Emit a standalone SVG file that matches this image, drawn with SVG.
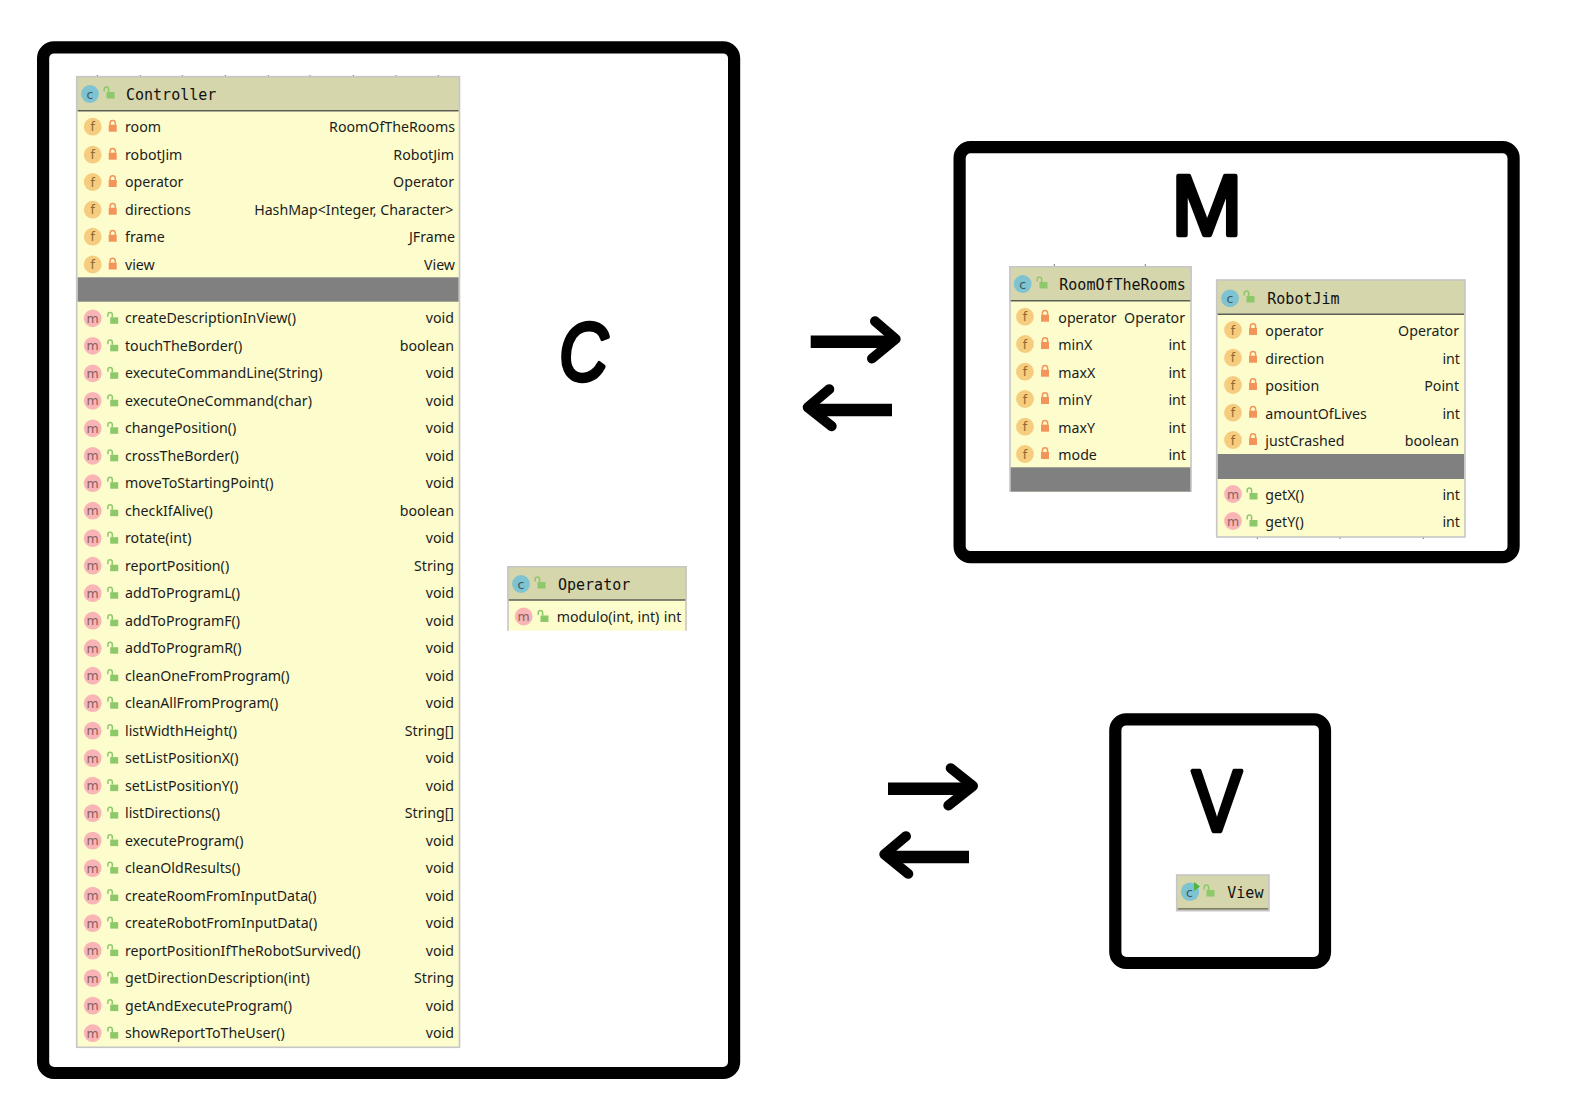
<svg xmlns="http://www.w3.org/2000/svg" width="1578" height="1115" viewBox="0 0 1578 1115">
<style>
.frame{fill:none;stroke:#000;stroke-width:12.2}
.hd{fill:#D5D6AB}.bd{fill:#FCFCCD}.gr{fill:#808080}
.bo{fill:none;stroke:#C6C6C6;stroke-width:1.6}
.hl{stroke:#5E5E58;stroke-width:1.4}
.tick{stroke:#777;stroke-width:1;fill:none}
text{font-family:"Noto Sans","Open Sans",sans-serif;font-size:14.2px;fill:#1c1c1c}
.r{text-anchor:end}
text.h{font-family:"DejaVu Sans Mono","Liberation Mono",monospace;font-size:15px;fill:#111}
.ic{fill:#7EC3D1}.if{fill:#F6CC7F}.im{fill:#F9B5B5}
text.lc,text.lf,text.lm{font-family:"DejaVu Sans",sans-serif;font-size:12.5px;text-anchor:middle}
text.lc{fill:#3C5660}text.lf{fill:#8A6A30}text.lm{fill:#85605E}
text.big{font-family:"Liberation Sans",sans-serif;fill:#000;stroke:#000;stroke-width:4.5;stroke-linejoin:round;text-anchor:middle}
text.bc{font-size:84px;font-style:italic}
text.bm{font-size:85px}
text.bv{font-size:88px}
.shaft{stroke:#000;stroke-width:12.4;fill:none}
.head{stroke:#000;stroke-width:10;fill:none;stroke-linecap:round;stroke-linejoin:round}
</style>
<defs>
<g id="lk"><rect x="-4" y="-2" width="8" height="7" fill="#F3955A"/><path d="M-2.6-2v-1.6a2.6 2.6 0 0 1 5.2 0V-2" fill="none" stroke="#F3955A" stroke-width="1.5"/></g>
<g id="lo"><rect x="-2.5" y="-1" width="8" height="6.5" fill="#8DC86B"/><path d="M-4.8-1.5v-2.2a2.2 2.2 0 0 1 4.4 0V-1" fill="none" stroke="#8DC86B" stroke-width="1.5"/></g>
</defs>

<g id="box-c"><rect class="frame" x="43.1" y="47.3" width="691" height="1025.7" rx="11"/><text class="big bc" transform="translate(583.5,379.5) scale(.8,.97)">C</text></g>
<g id="box-m"><rect class="frame" x="959.6" y="147.2" width="554" height="410" rx="11"/><text class="big bm" x="1207" y="235">M</text></g>
<g id="box-v"><rect class="frame" x="1115.3" y="719.3" width="209.7" height="243.7" rx="11"/><text class="big bv" transform="translate(1217,831) scale(.85,1)">V</text></g>

<g id="connectors">
<path class="shaft" d="M810.7 341.7H889"/><path class="head" d="M875 321.2L895.7 339L872 358.5"/>
<path class="shaft" d="M892 410H813"/><path class="head" d="M829.3 389.2L807.7 407.3L831.7 426.2"/>
<path class="shaft" d="M888 788.7H967"/><path class="head" d="M950.7 768.2L973 786L948.3 805.5"/>
<path class="shaft" d="M969 857H889"/><path class="head" d="M906 836.2L884.3 854.3L908.3 873.8"/>
</g>

<g id="node-controller">
<path class="tick" d="M97.3 75v2M140.3 75v2M182.3 75v2M225.3 75v2M268.3 75v2M310 75v2M353.3 75v2M396 75v2M438.3 75v2"/>
<rect class="bd" x="76.7" y="76.7" width="382.8" height="970.6"/>
<rect class="hd" x="76.7" y="76.7" width="382.8" height="34"/>
<rect class="gr" x="77.5" y="277.3" width="381.2" height="24.4"/>
<line class="hl" x1="77.5" y1="110.7" x2="458.7" y2="110.7"/>
<rect class="bo" x="76.7" y="76.7" width="382.8" height="970.6"/>
<circle class="ic" cx="90" cy="94" r="8.9"/><text class="lc" x="90" y="98.5">c</text><use href="#lo" x="109" y="93"/><text class="h" x="126" y="99.5">Controller</text>
<g transform="translate(0,126.7)"><circle class="if" cx="92.7" r="8.9"/><text class="lf" x="92.7" y="4.5">f</text><use href="#lk" x="112.7"/><text x="125" y="5">room</text><text class="r" x="455" y="5">RoomOfTheRooms</text></g>
<g transform="translate(0,154.7)"><circle class="if" cx="92.7" r="8.9"/><text class="lf" x="92.7" y="4.5">f</text><use href="#lk" x="112.7"/><text x="125" y="5">robotJim</text><text class="r" x="454" y="5">RobotJim</text></g>
<g transform="translate(0,182)"><circle class="if" cx="92.7" r="8.9"/><text class="lf" x="92.7" y="4.5">f</text><use href="#lk" x="112.7"/><text x="125" y="5">operator</text><text class="r" x="454" y="5">Operator</text></g>
<g transform="translate(0,209.7)"><circle class="if" cx="92.7" r="8.9"/><text class="lf" x="92.7" y="4.5">f</text><use href="#lk" x="112.7"/><text x="125" y="5">directions</text><text class="r" x="453.5" y="5">HashMap&lt;Integer, Character&gt;</text></g>
<g transform="translate(0,236.7)"><circle class="if" cx="92.7" r="8.9"/><text class="lf" x="92.7" y="4.5">f</text><use href="#lk" x="112.7"/><text x="125" y="5">frame</text><text class="r" x="455" y="5">JFrame</text></g>
<g transform="translate(0,264.5)"><circle class="if" cx="92.7" r="8.9"/><text class="lf" x="92.7" y="4.5">f</text><use href="#lk" x="112.7"/><text x="125" y="5">view</text><text class="r" x="455" y="5">View</text></g>
<g transform="translate(0,318.3)"><circle class="im" cx="92.7" r="8.9"/><text class="lm" x="92.7" y="4.5">m</text><use href="#lo" x="112.7"/><text x="125" y="5">createDescriptionInView()</text><text class="r" x="454" y="5">void</text></g>
<g transform="translate(0,345.8)"><circle class="im" cx="92.7" r="8.9"/><text class="lm" x="92.7" y="4.5">m</text><use href="#lo" x="112.7"/><text x="125" y="5">touchTheBorder()</text><text class="r" x="454" y="5">boolean</text></g>
<g transform="translate(0,373.3)"><circle class="im" cx="92.7" r="8.9"/><text class="lm" x="92.7" y="4.5">m</text><use href="#lo" x="112.7"/><text x="125" y="5">executeCommandLine(String)</text><text class="r" x="454" y="5">void</text></g>
<g transform="translate(0,400.8)"><circle class="im" cx="92.7" r="8.9"/><text class="lm" x="92.7" y="4.5">m</text><use href="#lo" x="112.7"/><text x="125" y="5">executeOneCommand(char)</text><text class="r" x="454" y="5">void</text></g>
<g transform="translate(0,428.3)"><circle class="im" cx="92.7" r="8.9"/><text class="lm" x="92.7" y="4.5">m</text><use href="#lo" x="112.7"/><text x="125" y="5">changePosition()</text><text class="r" x="454" y="5">void</text></g>
<g transform="translate(0,455.8)"><circle class="im" cx="92.7" r="8.9"/><text class="lm" x="92.7" y="4.5">m</text><use href="#lo" x="112.7"/><text x="125" y="5">crossTheBorder()</text><text class="r" x="454" y="5">void</text></g>
<g transform="translate(0,483.2)"><circle class="im" cx="92.7" r="8.9"/><text class="lm" x="92.7" y="4.5">m</text><use href="#lo" x="112.7"/><text x="125" y="5">moveToStartingPoint()</text><text class="r" x="454" y="5">void</text></g>
<g transform="translate(0,510.7)"><circle class="im" cx="92.7" r="8.9"/><text class="lm" x="92.7" y="4.5">m</text><use href="#lo" x="112.7"/><text x="125" y="5">checkIfAlive()</text><text class="r" x="454" y="5">boolean</text></g>
<g transform="translate(0,538.2)"><circle class="im" cx="92.7" r="8.9"/><text class="lm" x="92.7" y="4.5">m</text><use href="#lo" x="112.7"/><text x="125" y="5">rotate(int)</text><text class="r" x="454" y="5">void</text></g>
<g transform="translate(0,565.7)"><circle class="im" cx="92.7" r="8.9"/><text class="lm" x="92.7" y="4.5">m</text><use href="#lo" x="112.7"/><text x="125" y="5">reportPosition()</text><text class="r" x="454" y="5">String</text></g>
<g transform="translate(0,593.2)"><circle class="im" cx="92.7" r="8.9"/><text class="lm" x="92.7" y="4.5">m</text><use href="#lo" x="112.7"/><text x="125" y="5">addToProgramL()</text><text class="r" x="454" y="5">void</text></g>
<g transform="translate(0,620.7)"><circle class="im" cx="92.7" r="8.9"/><text class="lm" x="92.7" y="4.5">m</text><use href="#lo" x="112.7"/><text x="125" y="5">addToProgramF()</text><text class="r" x="454" y="5">void</text></g>
<g transform="translate(0,648.2)"><circle class="im" cx="92.7" r="8.9"/><text class="lm" x="92.7" y="4.5">m</text><use href="#lo" x="112.7"/><text x="125" y="5">addToProgramR()</text><text class="r" x="454" y="5">void</text></g>
<g transform="translate(0,675.7)"><circle class="im" cx="92.7" r="8.9"/><text class="lm" x="92.7" y="4.5">m</text><use href="#lo" x="112.7"/><text x="125" y="5">cleanOneFromProgram()</text><text class="r" x="454" y="5">void</text></g>
<g transform="translate(0,703.2)"><circle class="im" cx="92.7" r="8.9"/><text class="lm" x="92.7" y="4.5">m</text><use href="#lo" x="112.7"/><text x="125" y="5">cleanAllFromProgram()</text><text class="r" x="454" y="5">void</text></g>
<g transform="translate(0,730.7)"><circle class="im" cx="92.7" r="8.9"/><text class="lm" x="92.7" y="4.5">m</text><use href="#lo" x="112.7"/><text x="125" y="5">listWidthHeight()</text><text class="r" x="454" y="5">String[]</text></g>
<g transform="translate(0,758.1)"><circle class="im" cx="92.7" r="8.9"/><text class="lm" x="92.7" y="4.5">m</text><use href="#lo" x="112.7"/><text x="125" y="5">setListPositionX()</text><text class="r" x="454" y="5">void</text></g>
<g transform="translate(0,785.6)"><circle class="im" cx="92.7" r="8.9"/><text class="lm" x="92.7" y="4.5">m</text><use href="#lo" x="112.7"/><text x="125" y="5">setListPositionY()</text><text class="r" x="454" y="5">void</text></g>
<g transform="translate(0,813.1)"><circle class="im" cx="92.7" r="8.9"/><text class="lm" x="92.7" y="4.5">m</text><use href="#lo" x="112.7"/><text x="125" y="5">listDirections()</text><text class="r" x="454" y="5">String[]</text></g>
<g transform="translate(0,840.6)"><circle class="im" cx="92.7" r="8.9"/><text class="lm" x="92.7" y="4.5">m</text><use href="#lo" x="112.7"/><text x="125" y="5">executeProgram()</text><text class="r" x="454" y="5">void</text></g>
<g transform="translate(0,868.1)"><circle class="im" cx="92.7" r="8.9"/><text class="lm" x="92.7" y="4.5">m</text><use href="#lo" x="112.7"/><text x="125" y="5">cleanOldResults()</text><text class="r" x="454" y="5">void</text></g>
<g transform="translate(0,895.6)"><circle class="im" cx="92.7" r="8.9"/><text class="lm" x="92.7" y="4.5">m</text><use href="#lo" x="112.7"/><text x="125" y="5">createRoomFromInputData()</text><text class="r" x="454" y="5">void</text></g>
<g transform="translate(0,923.1)"><circle class="im" cx="92.7" r="8.9"/><text class="lm" x="92.7" y="4.5">m</text><use href="#lo" x="112.7"/><text x="125" y="5">createRobotFromInputData()</text><text class="r" x="454" y="5">void</text></g>
<g transform="translate(0,950.6)"><circle class="im" cx="92.7" r="8.9"/><text class="lm" x="92.7" y="4.5">m</text><use href="#lo" x="112.7"/><text x="125" y="5">reportPositionIfTheRobotSurvived()</text><text class="r" x="454" y="5">void</text></g>
<g transform="translate(0,978.1)"><circle class="im" cx="92.7" r="8.9"/><text class="lm" x="92.7" y="4.5">m</text><use href="#lo" x="112.7"/><text x="125" y="5">getDirectionDescription(int)</text><text class="r" x="454" y="5">String</text></g>
<g transform="translate(0,1005.6)"><circle class="im" cx="92.7" r="8.9"/><text class="lm" x="92.7" y="4.5">m</text><use href="#lo" x="112.7"/><text x="125" y="5">getAndExecuteProgram()</text><text class="r" x="454" y="5">void</text></g>
<g transform="translate(0,1033.1)"><circle class="im" cx="92.7" r="8.9"/><text class="lm" x="92.7" y="4.5">m</text><use href="#lo" x="112.7"/><text x="125" y="5">showReportToTheUser()</text><text class="r" x="454" y="5">void</text></g>
</g>

<g id="node-operator">
<rect class="bd" x="507.3" y="566" width="179.4" height="64.7"/>
<rect class="hd" x="507.3" y="566" width="179.4" height="34"/>
<line class="hl" x1="508" y1="600" x2="686" y2="600"/>
<path class="bo" d="M508 630.7V566.8H686V630.7"/>
<circle class="ic" cx="521" cy="584" r="8.9"/><text class="lc" x="521" y="588.5">c</text><use href="#lo" x="540" y="583"/><text class="h" x="558" y="589.5">Operator</text>
<g transform="translate(0,616.5)"><circle class="im" cx="523.7" r="8.9"/><text class="lm" x="523.7" y="4.5">m</text><use href="#lo" x="543"/><text x="556.7" y="5">modulo(int, int)</text><text class="r" x="681.3" y="5">int</text></g>
</g>

<g id="node-room">
<path class="tick" d="M1054.3 264v2M1145.3 264v2"/>
<rect class="bd" x="1009.3" y="266" width="182.4" height="225.7"/>
<rect class="hd" x="1009.3" y="266" width="182.4" height="34.7"/>
<rect class="gr" x="1010" y="467.3" width="181" height="24.4"/>
<line class="hl" x1="1010" y1="300.7" x2="1191" y2="300.7"/>
<path class="bo" d="M1010 491.7V266.8H1191V491.7"/>
<circle class="ic" cx="1022.7" cy="284" r="8.9"/><text class="lc" x="1022.7" y="288.5">c</text><use href="#lo" x="1042" y="283"/><text class="h" x="1059.3" y="289.5">RoomOfTheRooms</text>
<g transform="translate(0,317.7)"><circle class="if" cx="1025" cy="-1" r="8.9"/><text class="lf" x="1025" y="3.5">f</text><use href="#lk" x="1045" y="-1"/><text x="1058.3" y="5">operator</text><text class="r" x="1185" y="5">Operator</text></g>
<g transform="translate(0,345)"><circle class="if" cx="1025" cy="-1" r="8.9"/><text class="lf" x="1025" y="3.5">f</text><use href="#lk" x="1045" y="-1"/><text x="1058.3" y="5">minX</text><text class="r" x="1186" y="5">int</text></g>
<g transform="translate(0,372.7)"><circle class="if" cx="1025" cy="-1" r="8.9"/><text class="lf" x="1025" y="3.5">f</text><use href="#lk" x="1045" y="-1"/><text x="1058.3" y="5">maxX</text><text class="r" x="1186" y="5">int</text></g>
<g transform="translate(0,400)"><circle class="if" cx="1025" cy="-1" r="8.9"/><text class="lf" x="1025" y="3.5">f</text><use href="#lk" x="1045" y="-1"/><text x="1058.3" y="5">minY</text><text class="r" x="1186" y="5">int</text></g>
<g transform="translate(0,427.7)"><circle class="if" cx="1025" cy="-1" r="8.9"/><text class="lf" x="1025" y="3.5">f</text><use href="#lk" x="1045" y="-1"/><text x="1058.3" y="5">maxY</text><text class="r" x="1186" y="5">int</text></g>
<g transform="translate(0,455)"><circle class="if" cx="1025" cy="-1" r="8.9"/><text class="lf" x="1025" y="3.5">f</text><use href="#lk" x="1045" y="-1"/><text x="1058.3" y="5">mode</text><text class="r" x="1186" y="5">int</text></g>
</g>

<g id="node-robotjim">
<path class="tick" d="M1257.3 537v2M1340 537v2M1423.3 537v2"/>
<rect class="bd" x="1216.7" y="280" width="248.3" height="257"/>
<rect class="hd" x="1216.7" y="280" width="248.3" height="34.3"/>
<rect class="gr" x="1217.5" y="454" width="246.7" height="25"/>
<line class="hl" x1="1217.5" y1="314.3" x2="1464" y2="314.3"/>
<rect class="bo" x="1216.7" y="280" width="248.3" height="257"/>
<circle class="ic" cx="1230" cy="298.3" r="8.9"/><text class="lc" x="1230" y="302.8">c</text><use href="#lo" x="1249" y="297"/><text class="h" x="1267.3" y="303.5">RobotJim</text>
<g transform="translate(0,331)"><circle class="if" cx="1233" cy="-1" r="8.9"/><text class="lf" x="1233" y="3.5">f</text><use href="#lk" x="1253" y="-1"/><text x="1265.3" y="5">operator</text><text class="r" x="1459" y="5">Operator</text></g>
<g transform="translate(0,358.7)"><circle class="if" cx="1233" cy="-1" r="8.9"/><text class="lf" x="1233" y="3.5">f</text><use href="#lk" x="1253" y="-1"/><text x="1265.3" y="5">direction</text><text class="r" x="1460" y="5">int</text></g>
<g transform="translate(0,386)"><circle class="if" cx="1233" cy="-1" r="8.9"/><text class="lf" x="1233" y="3.5">f</text><use href="#lk" x="1253" y="-1"/><text x="1265.3" y="5">position</text><text class="r" x="1459" y="5">Point</text></g>
<g transform="translate(0,413.7)"><circle class="if" cx="1233" cy="-1" r="8.9"/><text class="lf" x="1233" y="3.5">f</text><use href="#lk" x="1253" y="-1"/><text x="1265.3" y="5">amountOfLives</text><text class="r" x="1460" y="5">int</text></g>
<g transform="translate(0,441)"><circle class="if" cx="1233" cy="-1" r="8.9"/><text class="lf" x="1233" y="3.5">f</text><use href="#lk" x="1253" y="-1"/><text x="1265.3" y="5">justCrashed</text><text class="r" x="1459" y="5">boolean</text></g>
<g transform="translate(0,495)"><circle class="im" cx="1233" cy="-1" r="8.9"/><text class="lm" x="1233" y="3.5">m</text><use href="#lo" x="1252" y="-1"/><text x="1265.3" y="5">getX()</text><text class="r" x="1460" y="5">int</text></g>
<g transform="translate(0,522)"><circle class="im" cx="1233" cy="-1" r="8.9"/><text class="lm" x="1233" y="3.5">m</text><use href="#lo" x="1252" y="-1"/><text x="1265.3" y="5">getY()</text><text class="r" x="1460" y="5">int</text></g>
</g>

<g id="node-view">
<rect class="hd" x="1176.7" y="875" width="92.3" height="35.7"/>
<line x1="1177.5" y1="908.9" x2="1268.3" y2="908.9" stroke="#7E7F68" stroke-width="1.8"/>
<rect class="bo" x="1176.7" y="875" width="92.3" height="35.7"/>
<circle class="ic" cx="1190" cy="891.7" r="9.2"/><text class="lc" x="1189.5" y="896.5">c</text><path d="M1194 882L1200 886.5L1194 891Z" fill="#4CB340"/><use href="#lo" x="1209" y="891"/><text class="h" x="1227.3" y="897.5">View</text>
</g>
</svg>
